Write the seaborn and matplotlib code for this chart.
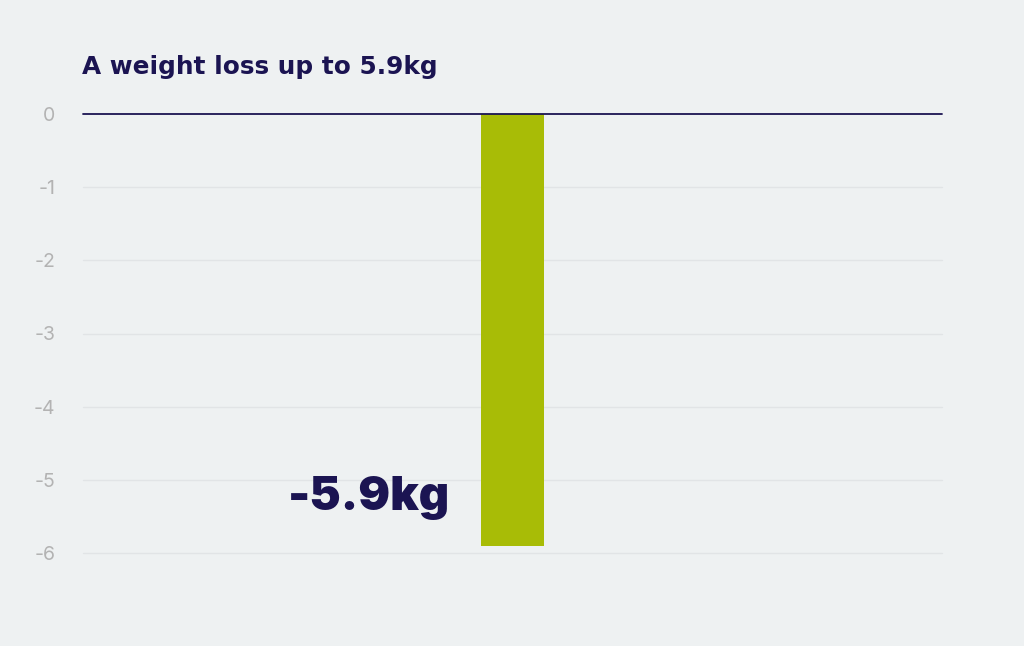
import pandas as pd
import seaborn as sns
import matplotlib.pyplot as plt

# Data
categories = ["Weight loss"]
values = [-5.9]
y_ticks = [0, -1, -2, -3, -4, -5, -6]
label = "-5.9kg"
title = "A weight loss up to 5.9kg"

df = pd.DataFrame({"category": categories, "value": values})

bg = "#EEF1F2"
navy = "#1B1452"
green = "#A8BC06"

sns.set_theme(style="white")
plt.rcParams["font.family"] = ["Inter", "DejaVu Sans"]

fig = plt.figure(figsize=(10.24, 6.46), dpi=100, facecolor=bg)
ax = fig.add_axes([83 / 1024, 1 - 553 / 646, 859 / 1024, (553 - 114) / 646])
ax.set_facecolor(bg)

sns.barplot(data=df, x="category", y="value", color=green, width=0.0745,
            saturation=1, linewidth=0, ax=ax, zorder=3)

ax.set_xlim(-0.5, 0.5)
ax.set_ylim(-6, 0)
ax.set_yticks(y_ticks)
ax.set_yticklabels([str(t) for t in y_ticks])
ax.set_xticks([])
ax.set_xlabel("")
ax.set_ylabel("")
ax.tick_params(axis="y", length=0, pad=20, labelsize=14, labelcolor="#B3B3B3")

for t in y_ticks[1:]:
    ax.axhline(t, color="#E1E4E6", lw=1, zorder=1, clip_on=False)
ax.axhline(0, color=navy, lw=1.3, zorder=4, clip_on=False)

for s in ax.spines.values():
    s.set_visible(False)

ax.text(-0.073, -5.25, label, ha="right", va="center", fontsize=34,
        fontweight="black", color=navy, zorder=5)

fig.text(82 / 1024, 1 - 67 / 646, title, ha="left", va="center",
         fontsize=17.8, fontweight="bold", color=navy,
         family=["DejaVu Sans"])

fig.savefig("out.png", dpi=100, facecolor=bg)
